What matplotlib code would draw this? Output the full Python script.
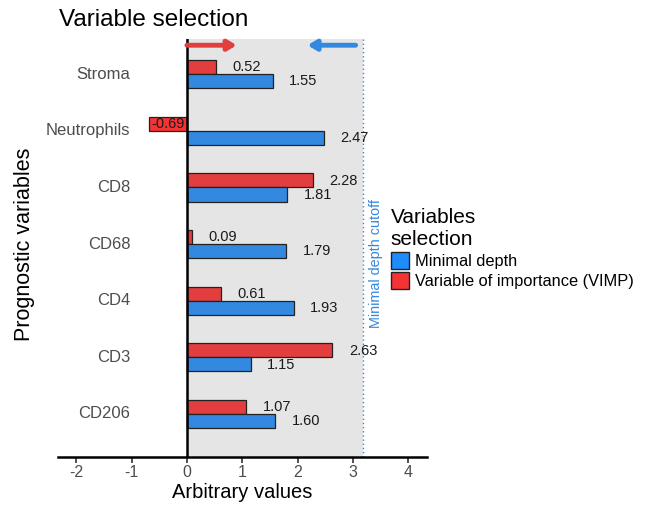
import matplotlib
matplotlib.use("Agg")
import matplotlib.pyplot as plt
from matplotlib.patches import Patch

plt.rcParams['font.family'] = ['Liberation Sans', 'DejaVu Sans']

categories = ["Stroma", "Neutrophils", "CD8", "CD68", "CD4", "CD3", "CD206"]
vimp = [0.52, -0.69, 2.28, 0.09, 0.61, 2.63, 1.07]
min_depth = [1.55, 2.47, 1.81, 1.79, 1.93, 1.15, 1.60]
cutoff = 3.18
xticks = [-2, -1, 0, 1, 2, 3, 4]

blue = '#3388E0'
red = '#E33E3F'
red_legend = '#F53333'
blue_legend = '#1E8CFF'

fig = plt.figure(figsize=(6.47, 5.05), dpi=100)
W, H = 647, 505
ax = fig.add_axes([58 / W, (H - 457) / H, (427 - 58) / W, (457 - 39) / H])

ax.set_xlim(-2.33, 4.34)
ax.set_ylim(6.76, -0.62)

ax.axvspan(0, cutoff, color='#E5E5E5', zorder=0, lw=0)
ax.axvline(cutoff, color=blue, ls=(0, (1, 2)), lw=1.0, zorder=1)
ax.axvline(0, color='black', lw=1.8, zorder=3)

ys = list(range(len(categories)))
bh = 0.25
for i, y in enumerate(ys):
    v = vimp[i]
    col = red if v >= 0 else red_legend
    ax.barh(y - 0.125, v, height=bh, color=col, edgecolor='#222222', lw=0.9, zorder=2)
    ax.barh(y + 0.125, min_depth[i], height=bh, color=blue, edgecolor='#222222', lw=0.9, zorder=2)
    if v >= 0:
        ax.text(v + 0.3, y - 0.12, f"{v:.2f}", ha='left', va='center', fontsize=10.5, color='#1a1a1a', zorder=4)
    else:
        ax.text(v / 2, y - 0.12, f"{v:.2f}", ha='center', va='center', fontsize=10.5, color='#1a1a1a', zorder=4)
    ax.text(min_depth[i] + 0.3, y + 0.13, f"{min_depth[i]:.2f}", ha='left', va='center', fontsize=10.5, color='#1a1a1a', zorder=4)
    ax.text(-1.02, y, categories[i], ha='right', va='center', fontsize=12, color='#4d4d4d')

# arrows
ax.annotate('', xy=(0.9, -0.51), xytext=(0, -0.51),
            arrowprops=dict(arrowstyle='-|>,head_length=0.5,head_width=0.3', color=red, lw=3.5, shrinkA=0, shrinkB=0))
ax.annotate('', xy=(2.18, -0.51), xytext=(3.05, -0.51),
            arrowprops=dict(arrowstyle='-|>,head_length=0.5,head_width=0.3', color=blue, lw=3.5, shrinkA=0, shrinkB=0))

ax.text(3.42, 3.35, "Minimal depth cutoff", rotation=90, ha='center', va='center', fontsize=10.4, color=blue)

for s in ['left', 'right', 'top']:
    ax.spines[s].set_visible(False)
ax.spines['bottom'].set_linewidth(1.8)
ax.set_yticks([])
ax.set_xticks(xticks)
ax.set_xticklabels([str(t) for t in xticks], fontsize=11.5, color='#4d4d4d')
ax.tick_params(axis='x', length=4, width=1.2, color='#333333', pad=2)
ax.set_xlabel("Arbitrary values", fontsize=14.5, labelpad=2)

fig.text(25 / W, 1 - 244 / H, "Prognostic variables", rotation=90, ha='center', va='center', fontsize=15.5)
fig.text(59 / W, 1 - 20 / H, "Variable selection", ha='left', va='center', fontsize=17.5)

handles = [Patch(facecolor=blue_legend, edgecolor='#222222', label='Minimal depth'),
           Patch(facecolor=red_legend, edgecolor='#222222', label='Variable of importance (VIMP)')]
leg = fig.legend(handles=handles, title="Variables\nselection", loc='upper left',
                 bbox_to_anchor=(384 / W, 1 - 201 / H), frameon=False, fontsize=11.8,
                 title_fontsize=15, handlelength=1.15, handleheight=1.2, handletextpad=0.35,
                 labelspacing=0.2, borderaxespad=0)
leg._legend_box.align = 'left'

fig.savefig('out.png', dpi=100)
